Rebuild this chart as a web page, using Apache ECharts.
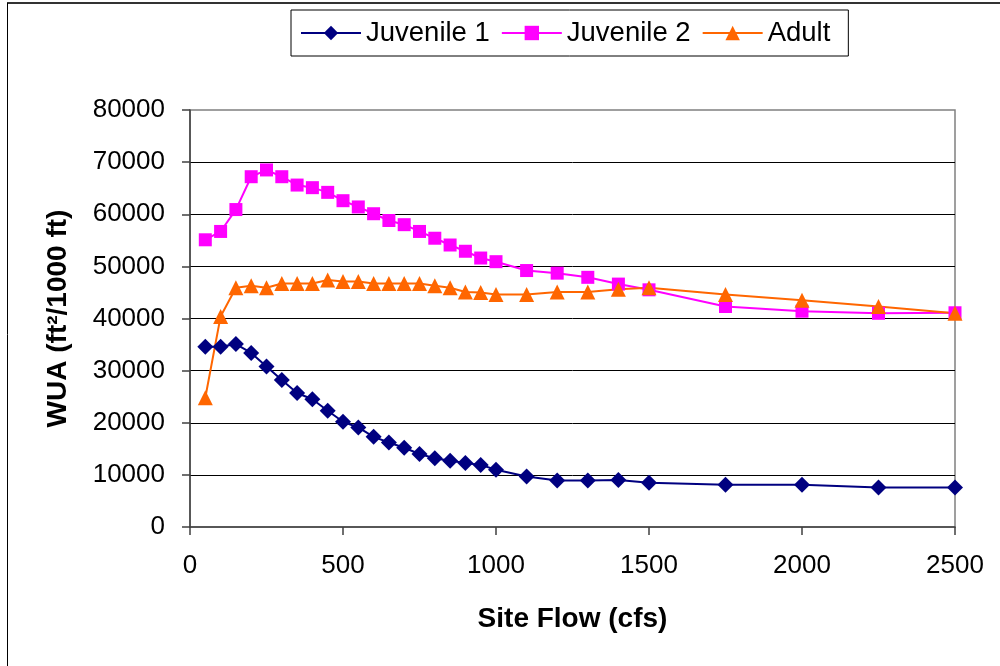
<!DOCTYPE html>
<html>
<head>
<meta charset="utf-8">
<script src="https://cdn.jsdelivr.net/npm/echarts@6/dist/echarts.min.js"></script>
<style>
html,body{margin:0;padding:0;background:#fff;}
#c{width:1000px;height:666px;}
</style>
</head>
<body>
<div id="c"></div>
<script>
const flows = [50,100,150,200,250,300,350,400,450,500,550,600,650,700,750,800,850,900,950,1000,1100,1200,1300,1400,1500,1750,2000,2250,2500];
const juvenile1 = [34600,34600,35100,33400,30800,28200,25700,24500,22300,20200,19100,17300,16200,15200,14000,13200,12700,12300,11900,11000,9700,8900,8900,9000,8500,8100,8100,7600,7600];
const juvenile2 = [55100,56700,60900,67200,68500,67200,65600,65100,64200,62600,61400,60100,58800,58000,56700,55400,54100,52900,51600,50900,49200,48700,47900,46600,45500,42300,41400,41000,41100];
const adult = [24800,40400,45900,46300,45900,46700,46700,46700,47400,47100,47100,46700,46700,46700,46700,46300,45900,45100,45000,44600,44600,45100,45100,45600,45900,44600,43500,42300,41000];
const seriesNames = ['Juvenile 1','Juvenile 2','Adult'];
const xTicks = {min:0, max:2500, interval:500};
const yTicks = {min:0, max:80000, interval:10000};

const zip = a => flows.map((f,i)=>[f,a[i]]);
const font = '"Liberation Sans", Arial, sans-serif';

const chart = echarts.init(document.getElementById('c'), null, {renderer:'canvas'});
chart.setOption({
  animation:false,
  backgroundColor:'#fff',
  graphic:[
    {type:'line', shape:{x1:7,y1:3,x2:1000,y2:3}, style:{stroke:'#333',lineWidth:2}, z:100},
    {type:'line', shape:{x1:7.5,y1:3,x2:7.5,y2:666}, style:{stroke:'#000',lineWidth:1}, z:100}
  ],
  legend:{
    data:seriesNames,
    left:291, top:10,
    padding:[9,18,9,9],
    itemGap:11,
    itemWidth:60, itemHeight:18,
    borderColor:'#000', borderWidth:1,
    textStyle:{fontFamily:font,fontSize:27.5,color:'#000'}
  },
  grid:{left:190,right:45,top:110,bottom:139,show:true,borderColor:'#808080',borderWidth:1.5},
  xAxis:{
    type:'value', min:xTicks.min, max:xTicks.max, interval:xTicks.interval,
    name:'Site Flow (cfs)', nameLocation:'middle', nameGap:78,
    nameTextStyle:{fontFamily:font,fontSize:28,fontWeight:'bold',color:'#000'},
    axisLine:{show:true,onZero:false,lineStyle:{color:'#404040',width:1.5}},
    axisTick:{show:true,inside:false,length:8,lineStyle:{color:'#404040',width:1.5}},
    axisLabel:{margin:26,fontFamily:font,fontSize:26,color:'#000',formatter:v=>String(v)},
    splitLine:{show:false}
  },
  yAxis:{
    type:'value', min:yTicks.min, max:yTicks.max, interval:yTicks.interval,
    name:'WUA (ft\u00B2/1000 ft)', nameLocation:'middle', nameGap:118,
    nameTextStyle:{fontFamily:font,fontSize:28,fontWeight:'bold',color:'#000'},
    axisLine:{show:true,lineStyle:{color:'#404040',width:1.5}},
    axisTick:{show:true,inside:false,length:8,lineStyle:{color:'#404040',width:1.5}},
    axisLabel:{margin:25,fontFamily:font,fontSize:26,color:'#000',formatter:v=>String(v)},
    splitLine:{show:true,showMinLine:false,showMaxLine:false,lineStyle:{color:'#000',width:1}}
  },
  series:[
    {name:seriesNames[0],type:'line',data:zip(juvenile1),symbol:'diamond',symbolSize:[16,16],
     itemStyle:{color:'#000080'},lineStyle:{color:'#000080',width:2}},
    {name:seriesNames[1],type:'line',data:zip(juvenile2),symbol:'rect',symbolSize:13,
     itemStyle:{color:'#FF00FF'},lineStyle:{color:'#FF00FF',width:2}},
    {name:seriesNames[2],type:'line',data:zip(adult),symbol:'triangle',symbolSize:[15,15],
     itemStyle:{color:'#FF6600'},lineStyle:{color:'#FF6600',width:2}}
  ]
});
</script>
</body>
</html>
